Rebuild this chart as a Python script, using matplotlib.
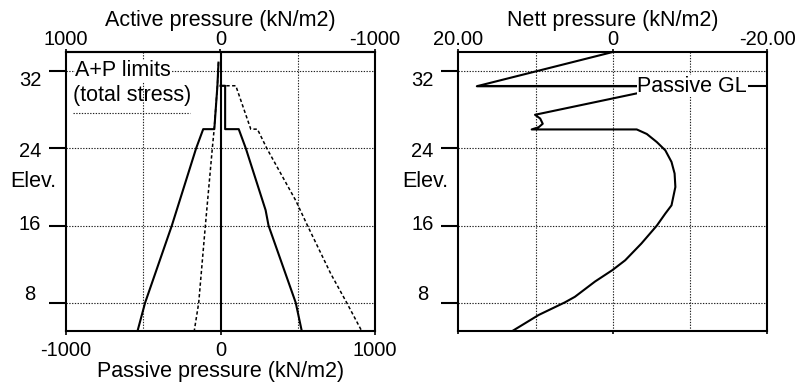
import matplotlib
matplotlib.use("Agg")
import matplotlib.pyplot as plt
import matplotlib.transforms as mtransforms

plt.rcParams['font.family'] = ['Liberation Sans', 'DejaVu Sans']

# ---------------- data ----------------
elev_ticks = [8, 16, 24, 32]
elev_tick_labels = ['8', '16', '24', '32']
elev_lim = (5.07, 34.0)

# left panel: pressure limits (bottom-axis units, kN/m2)
limA_elev = [32.9, 30.5, 26.0, 26.0, 24.0, 16.0, 8.0, 5.07]
limA_val = [-13, -20, -40, -112, -158, -315, -488, -537]
limB_elev = [32.9, 30.5, 26.0, 24.0, 16.0, 8.0, 5.07]
limB_val = [-13, -20, -41, -53, -98, -141, -170]
limC_elev = [30.5, 30.5, 26.0, 26.0, 24.0, 17.6, 16.0, 8.0, 5.07]
limC_val = [0, 30, 30, 118, 164, 292, 311, 487, 526]
limD_elev = [30.5, 30.5, 26.0, 26.0, 24.0, 18.6, 16.0, 11.0, 8.0, 5.07]
limD_val = [0, 99, 196, 239, 300, 487, 563, 714, 817, 914]

left_xticks = [-1000, 0, 1000]
left_bottom_labels = ['-1000', '0', '1000']
left_top_ticks = [1000, 0, -1000]
left_top_labels = ['1000', '0', '-1000']
left_grid_x = [-500, 500]

# right panel: nett pressure
net_elev = [34.0, 30.45, 30.45, 27.49, 27.1, 26.56, 26.2, 25.97, 25.97, 25.5, 24.66,
            23.8, 22.6, 21.4, 20.0, 18.1, 17.25, 16.0, 14.14, 12.4, 11.38, 10.2,
            8.62, 8.04, 6.73, 5.07]
net_val = [0.0, 17.6, -7.5, 10.07, 9.4, 9.07, 9.6, 10.5, -3.1, -4.4, -5.7,
           -6.8, -7.6, -8.0, -8.1, -7.6, -6.8, -5.7, -3.7, -1.6, 0.06, 2.3,
           4.9, 6.2, 9.6, 13.0]
passive_gl = 30.45
right_xticks = [20, 0, -20]
right_top_labels = ['20.00', '0', '-20.00']
right_grid_x = [-10, 10]

# ---------------- figure ----------------
W, H = 795, 389
fig = plt.figure(figsize=(W / 100, H / 100), dpi=100)

def px_axes(x0, y0, x1, y1):
    return fig.add_axes([x0 / W, 1 - y1 / H, (x1 - x0) / W, (y1 - y0) / H])

axL = px_axes(66, 52, 375, 331)
axR = px_axes(458.3, 52, 767.3, 331)

FS = 15.5
TFS = 14.5
grid_kw = dict(color='#222222', lw=0.8, ls=(0, (1.2, 1.3)))
dash_ls = (0, (2.2, 1.6))

# y label offsets in pixels (label centre relative to tick)
ylab_dy = {8: -8, 16: -1, 24: 3, 32: 9}

for ax in (axL, axR):
    ax.set_ylim(*elev_lim)
    ax.set_yticks(elev_ticks)
    ax.set_yticklabels([])
    ax.tick_params(axis='y', direction='out', length=12.5, width=1.5, left=True)
    for s in ax.spines.values():
        s.set_linewidth(1.5)
    for y in elev_ticks:
        ax.axhline(y, zorder=1, **grid_kw)
    for y, lab in zip(elev_ticks, elev_tick_labels):
        tr = mtransforms.blended_transform_factory(ax.transAxes, ax.transData) + \
            mtransforms.ScaledTranslation(-36 / 100, -ylab_dy[y] / 100, fig.dpi_scale_trans)
        ax.text(0, y, lab, transform=tr, ha='center', va='center', fontsize=TFS)
    tr = mtransforms.blended_transform_factory(ax.transAxes, ax.transData) + \
        mtransforms.ScaledTranslation(-33 / 100, 0, fig.dpi_scale_trans)
    ax.text(0, 20.6, 'Elev.', transform=tr, ha='center', va='center', fontsize=FS)

# ---- left panel ----
axL.set_xlim(-1000, 1000)
axL.set_xticks(left_xticks)
axL.set_xticklabels(left_bottom_labels, fontsize=TFS)
axL.tick_params(axis='x', direction='out', length=3, width=1.2, pad=4)
axL.set_xlabel('Passive pressure (kN/m2)', fontsize=FS, labelpad=1)
for x in left_grid_x:
    axL.axvline(x, zorder=1, **grid_kw)
axL.axvline(0, color='black', lw=1.5, zorder=3)

secL = axL.secondary_xaxis('top', functions=(lambda x: -x, lambda x: -x))
secL.set_xticks(left_top_ticks)
secL.set_xticklabels(left_top_labels, fontsize=TFS)
secL.tick_params(axis='x', direction='out', length=2, width=1.2, pad=0)
secL.spines['top'].set_linewidth(1.5)
secL.set_xlabel('Active pressure (kN/m2)', fontsize=FS, labelpad=3)

axL.plot(limA_val, limA_elev, color='black', lw=1.5, zorder=4)
axL.plot(limC_val, limC_elev, color='black', lw=1.5, zorder=4)
axL.plot(limB_val, limB_elev, color='black', lw=1.1, ls=dash_ls, zorder=4)
axL.plot(limD_val, limD_elev, color='black', lw=1.1, ls=dash_ls, zorder=4)

axL.text(0.03, 32.05, 'A+P limits', transform=mtransforms.blended_transform_factory(axL.transAxes, axL.transData),
         ha='left', va='center', fontsize=FS,
         bbox=dict(facecolor='white', edgecolor='none', pad=0.5), zorder=5)
axL.text(0.023, 0.845, '(total stress)', transform=axL.transAxes,
         ha='left', va='center', fontsize=FS, zorder=5)
axL.plot([0.023, 0.4], [0.78, 0.78], transform=axL.transAxes, color='#222222',
         lw=0.8, ls=(0, (1.2, 1.3)), zorder=5)

# ---- right panel ----
axR.set_xlim(20, -20)
axR.set_xticks(right_xticks)
axR.set_xticklabels(right_top_labels, fontsize=TFS)
axR.tick_params(axis='x', direction='out', length=2, width=1.2, pad=0,
                top=True, labeltop=True, bottom=True, labelbottom=False)
axR.xaxis.set_label_position('top')
axR.set_xlabel('Nett pressure (kN/m2)', fontsize=FS, labelpad=3)
for x in right_grid_x + [0]:
    axR.axvline(x, zorder=1, **grid_kw)

axR.plot(net_val, net_elev, color='black', lw=1.5, zorder=4)
axR.hlines(passive_gl, net_val[1], -20, color='black', lw=1.5, zorder=4)
axR.text(0.934, passive_gl, 'Passive GL',
         transform=mtransforms.blended_transform_factory(axR.transAxes, axR.transData),
         ha='right', va='center', fontsize=FS,
         bbox=dict(facecolor='white', edgecolor='none', pad=0.5), zorder=5)

fig.savefig('out.png', dpi=100)
